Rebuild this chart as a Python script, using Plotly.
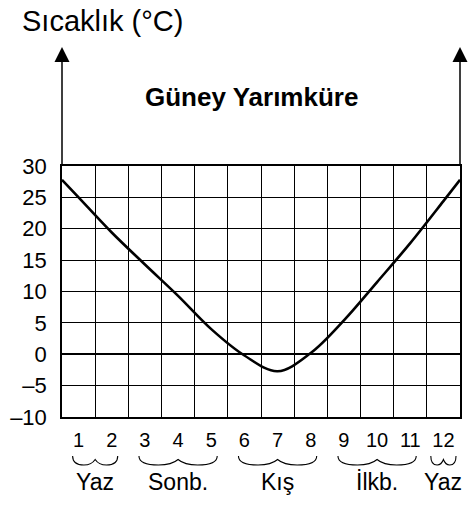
import plotly.graph_objects as go

# ---- data ----
months = [1, 2, 3, 4, 5, 6, 7, 8, 9, 10, 11, 12]
month_labels = ["1", "2", "3", "4", "5", "6", "7", "8", "9", "10", "11", "12"]
temps = [25.0, 19.4, 14.3, 9.3, 4.0, -0.2, -2.7, 0.2, 5.4, 11.5, 17.7, 24.4]
edge_x = [0.5, 12.5]
edge_temp = [27.8, 27.8]
y_ticks = [-10, -5, 0, 5, 10, 15, 20, 25, 30]
y_ticktext = ["\u201310", "\u20135", "0", "5", "10", "15", "20", "25", "30"]
seasons = ["Yaz", "Sonb.", "Kış", "İlkb.", "Yaz"]
season_start = [1, 3, 6, 9, 12]
season_end = [2, 5, 8, 11, 12]
title_text = "Güney Yarımküre"
y_title = "Sıcaklık (°C)"

FONT = "Liberation Sans, Arial, Helvetica, sans-serif"

x_curve = [edge_x[0]] + months + [edge_x[1]]
t_curve = [edge_temp[0]] + temps + [edge_temp[1]]

fig = go.Figure()
fig.add_trace(go.Scatter(
    x=x_curve, y=t_curve, mode="lines",
    line=dict(color="black", width=2.6, shape="spline", smoothing=1.0),
    hoverinfo="skip", showlegend=False, cliponaxis=True,
))

grid_x = [m - 0.5 for m in months] + [months[-1] + 0.5]

fig.update_xaxes(
    range=[0.5, 12.5], tickvals=months, ticktext=month_labels,
    showgrid=False, zeroline=False, automargin=False,
    showline=True, linecolor="black", linewidth=1.5, mirror=True,
    ticks="outside", ticklen=0, ticklabelstandoff=4,
    tickfont=dict(family=FONT, size=20, color="black"),
    minor=dict(tickvals=grid_x, showgrid=True, gridcolor="black", gridwidth=1.3, ticks=""),
    fixedrange=True,
)
fig.update_yaxes(
    range=[-10, 30], tickvals=y_ticks, ticktext=y_ticktext,
    showgrid=True, gridcolor="black", gridwidth=1.3, automargin=False,
    zeroline=True, zerolinecolor="black", zerolinewidth=2.2,
    showline=True, linecolor="black", linewidth=1.5, mirror=True,
    ticks="outside", ticklen=0, ticklabelstandoff=9,
    tickfont=dict(family=FONT, size=22, color="black"),
    fixedrange=True,
)

# plot area geometry (px): left 62, right 460, top 166, bottom 417
L, R, T, B = 62, 460, 166, 417
H = B - T

def py(p):
    return (B - p) / H

annotations = []
# axis arrows extending above the grid
for xp in [0, 1]:
    annotations.append(dict(
        x=xp, y=py(47), xref="paper", yref="paper", text="",
        showarrow=True, ax=0, ay=(T - 47), axref="pixel", ayref="pixel",
        arrowhead=2, arrowsize=2.0, arrowwidth=1.5, arrowcolor="black",
        standoff=0, startstandoff=0,
    ))

annotations.append(dict(
    x=(251 - L) / (R - L), y=py(97), xref="paper", yref="paper",
    text="<b>" + title_text + "</b>", showarrow=False,
    font=dict(family=FONT, size=26, color="black"),
    xanchor="center", yanchor="middle",
))
annotations.append(dict(
    x=(20 - L) / (R - L), y=py(21), xref="paper", yref="paper",
    text=y_title, showarrow=False,
    font=dict(family=FONT, size=29, color="black"),
    xanchor="left", yanchor="middle",
))

shapes = []
yt, ym, yb = py(456), py(459.5), py(465)
for name, s, e in zip(seasons, season_start, season_end):
    pad = 0.18 if e > s else 0.38
    a = s - pad
    b = e + pad
    m = (a + b) / 2
    w = b - a
    path = (f"M {a},{yt} Q {a},{yb} {a + 0.25 * w},{yb} "
            f"Q {m - 0.08 * w},{yb} {m},{ym} "
            f"Q {m + 0.08 * w},{yb} {b - 0.25 * w},{yb} "
            f"Q {b},{yb} {b},{yt}")
    shapes.append(dict(type="path", path=path, xref="x", yref="paper",
                       line=dict(color="black", width=1.1)))
    annotations.append(dict(
        x=(s + e) / 2, y=py(482), xref="x", yref="paper", text=name,
        showarrow=False, font=dict(family=FONT, size=23, color="black"),
        xanchor="center", yanchor="middle",
    ))

fig.update_layout(
    width=472, height=506,
    margin=dict(l=L, r=472 - R, t=T, b=506 - B, autoexpand=False),
    paper_bgcolor="white", plot_bgcolor="white",
    annotations=annotations, shapes=shapes,
    showlegend=False,
)

fig.write_html(
    "out.html",
    config={"displayModeBar": False},
    post_script="document.body.style.margin='0';document.body.style.overflow='hidden';",
)
